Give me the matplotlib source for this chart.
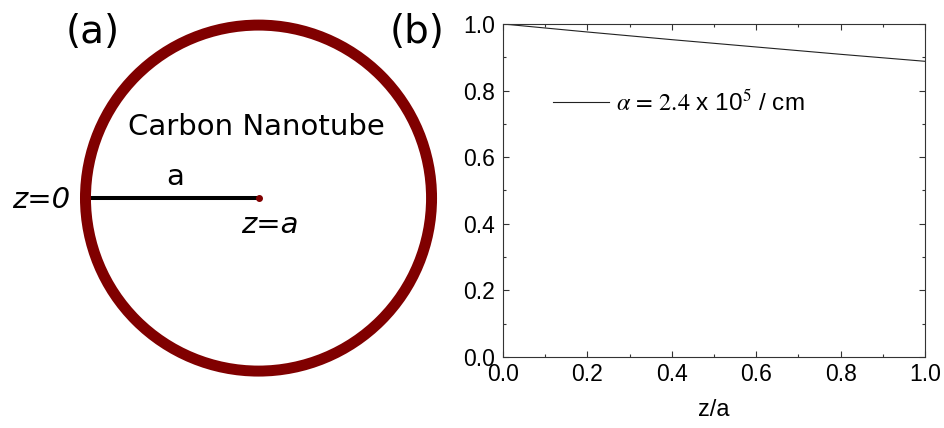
import numpy as np
import matplotlib
matplotlib.use("Agg")
import matplotlib.pyplot as plt
from matplotlib.patches import Circle
from matplotlib.ticker import MultipleLocator

plt.rcParams["mathtext.fontset"] = "stix"

# panel (b) data: normalised intensity vs z/a
z_over_a = [0.0, 0.2, 0.4, 0.6, 0.8, 1.0]
intensity = [1.0, 0.976, 0.953, 0.931, 0.909, 0.888]
series_label = r"$\alpha\, =\, 2.4$ x 10$^{5}$ / cm"

xticks = [0.0, 0.2, 0.4, 0.6, 0.8, 1.0]
yticks = [0.0, 0.2, 0.4, 0.6, 0.8, 1.0]

# panel (a) schematic, in units of the tube radius
tube_radius = 1.0
tube_color = "#800000"

fig = plt.figure(figsize=(9.44, 4.28), dpi=100)

# ---- (a) schematic ----
axa = fig.add_axes([0, 0, 480 / 944, 1])
axa.set_xlim(-1.494, 1.280)
axa.set_ylim(-1.329, 1.145)
axa.axis("off")

axa.plot([-tube_radius, 0], [0, 0], color="black", lw=2.9, solid_capstyle="butt", zorder=2)
axa.add_patch(Circle((0, 0), tube_radius, fill=False, ec=tube_color, lw=7.9, zorder=3))
axa.plot([0], [0], "o", color=tube_color, ms=4, zorder=4)

axa.text(-0.957, 0.96, "(a)", fontsize=28, ha="center", va="center", family="DejaVu Sans")
axa.text(0.919, 0.96, "(b)", fontsize=28, ha="center", va="center", family="DejaVu Sans")
axa.text(-0.014, 0.364, "Carbon Nanotube", fontsize=21, ha="center", va="baseline",
         family="DejaVu Sans")
axa.text(-0.484, 0.075, "a", fontsize=21, ha="center", va="baseline", family="DejaVu Sans")
axa.text(-1.257, -0.058, "z=0", fontsize=21, ha="center", va="baseline",
         family="DejaVu Sans", style="italic")
axa.text(0.064, -0.202, "z=a", fontsize=21, ha="center", va="baseline",
         family="DejaVu Sans", style="italic")

# ---- (b) plot ----
ax = fig.add_axes([503 / 944, 71 / 428, 422 / 944, 333 / 428])
ax.plot(z_over_a, intensity, color="#222222", lw=0.8, label=series_label)
ax.set_xlim(0, 1)
ax.set_ylim(0, 1)
ax.set_xticks(xticks)
ax.set_yticks(yticks)
ax.set_xticklabels([f"{t:.1f}" for t in xticks])
ax.set_yticklabels([f"{t:.1f}" for t in yticks])
ax.xaxis.set_minor_locator(MultipleLocator(0.1))
ax.yaxis.set_minor_locator(MultipleLocator(0.1))
ax.tick_params(which="both", direction="in", top=True, right=True, width=0.8,
               color="#333333")
ax.tick_params(which="major", length=4.3, labelsize=16.5)
ax.tick_params(axis="x", which="major", pad=4)
ax.tick_params(axis="y", which="major", pad=6)
ax.tick_params(which="minor", length=2.2)
for lab in ax.get_xticklabels() + ax.get_yticklabels():
    lab.set_family("Liberation Sans")
for sp in ax.spines.values():
    sp.set_linewidth(0.8)
    sp.set_color("#333333")
ax.set_xlabel("z/a", fontsize=17, family="Liberation Sans", labelpad=10)

leg = ax.legend(loc="center left", bbox_to_anchor=(0.118, 0.763), frameon=False,
                borderpad=0, borderaxespad=0, handlelength=2.3, handletextpad=0.32,
                prop={"family": "Liberation Sans", "size": 17.5})

fig.savefig("out.png", dpi=100)
